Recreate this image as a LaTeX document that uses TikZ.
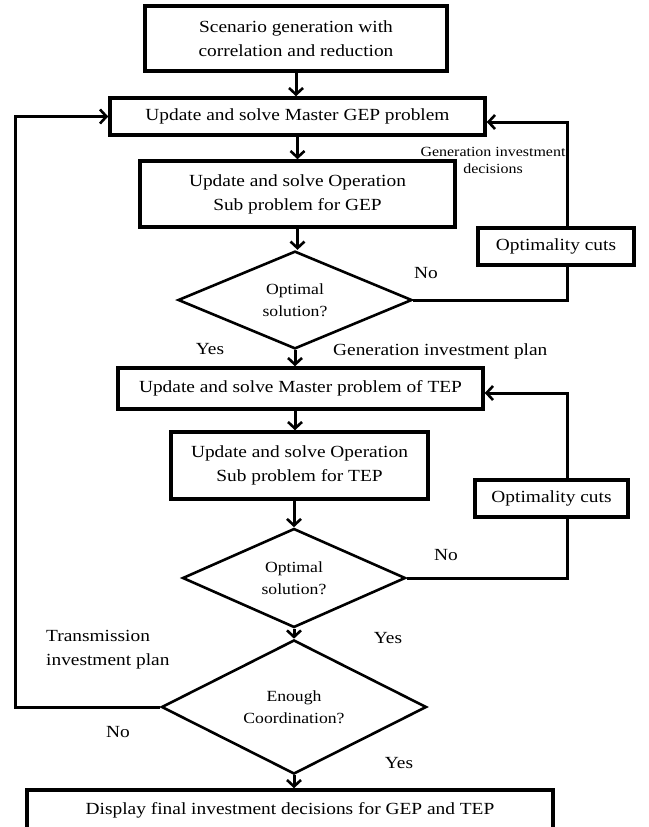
\documentclass[tikz,border=0pt]{standalone}
\usepackage{fontspec}
\setmainfont[FakeStretch=1.14]{Liberation Serif}
\usetikzlibrary{shapes.geometric,arrows.meta}
\newcommand\fsbox{\fontsize{17}{24}\selectfont}
\newcommand\fsdia{\fontsize{15.5}{22}\selectfont}
\newcommand\fssmall{\fontsize{14}{17}\selectfont}
\begin{document}
\begin{tikzpicture}[x=1pt,y=-1pt,
  box/.style={draw, rectangle, line width=3.5pt, inner sep=0pt, align=center, font=\fsbox},
  dec/.style={draw, diamond, line width=2.6pt, inner sep=0pt, align=center, font=\fsdia},
  lbl/.style={inner sep=0pt, font=\fsbox},
  arr/.style={line width=3pt, -{Straight Barb[length=6.5pt,width=14pt,line width=2.6pt]}},
  ln/.style={line width=3pt}]
\useasboundingbox (0,0) rectangle (648,827);
\fill[white] (0,0) rectangle (648,827);
% boxes
\node[box, minimum width=302pt, minimum height=65pt] (b1) at (296,38.5) {Scenario generation with\\correlation and reduction};
\node[box, minimum width=375pt, minimum height=37pt] (b2) at (297.5,116.5) {Update and solve Master GEP problem};
\node[box, minimum width=315pt, minimum height=66pt] (b3) at (297.5,194) {Update and solve Operation\\Sub problem for GEP};
\node[dec, minimum width=234pt, minimum height=97pt] (d1) at (295,300) {Optimal\\solution?};
\node[box, minimum width=156pt, minimum height=37pt] (o1) at (556,246.5) {Optimality cuts};
\node[box, minimum width=365pt, minimum height=41pt] (b4) at (300.5,388.5) {Update and solve Master problem of TEP};
\node[box, minimum width=257pt, minimum height=67pt] (b5) at (299.5,465.5) {Update and solve Operation\\Sub problem for TEP};
\node[dec, minimum width=223pt, minimum height=99pt] (d2) at (294,578) {Optimal\\solution?};
\node[box, minimum width=153pt, minimum height=37pt] (o2) at (551.5,498.5) {Optimality cuts};
\node[dec, minimum width=265pt, minimum height=113pt] (d3) at (294,707) {Enough\\Coordination?};
\node[box, minimum width=526pt, minimum height=40pt] (b6) at (290,810) {Display final investment decisions for GEP and TEP};
% labels
\node[inner sep=0pt, align=center, font=\fssmall] (gid) at (493,160) {Generation investment\\decisions};
\node[lbl] (no1) at (426,273) {No};
\node[lbl] (yes1) at (210,349) {Yes};
\node[lbl, anchor=west] (gip) at (333,351) {Generation investment plan};
\node[lbl] (no2) at (446,555) {No};
\node[lbl, anchor=west, align=left] (tip) at (46,650) {Transmission\\investment plan};
\node[lbl] (yes2) at (388,638) {Yes};
\node[lbl] (no3) at (118,732) {No};
\node[lbl] (yes3) at (399,763) {Yes};
% coordinates
\coordinate (rx) at (567,0);
\coordinate (lx) at (15,0);
% main flow
\draw[arr] (b1.south) -- (b1.south |- b2.north);
\draw[arr] (b2.south) -- (b2.south |- b3.north);
\draw[arr] (b3.south) -- (b3.south |- d1.north);
\draw[arr] (d1.south) -- (d1.south |- b4.north);
\draw[arr] (d1.south |- b4.south) -- (d1.south |- b5.north);
\draw[arr] (d2.north |- b5.south) -- (d2.north);
\draw[arr] (d2.south) -- (d3.north);
\draw[arr] (d3.south) -- (d3.south |- b6.north);
% GEP loop
\draw[ln] (d1.east) -| (rx |- o1.south);
\draw[arr] (rx |- o1.north) |- ([yshift=-5.5pt]b2.east);
% TEP loop
\draw[ln] (d2.east) -| (rx |- o2.south);
\draw[arr] (rx |- o2.north) |- ([yshift=-4.5pt]b4.east);
% coordination loop
\draw[arr] (d3.west) -| (lx |- b2.west) -- (b2.west);
\end{tikzpicture}
\end{document}
